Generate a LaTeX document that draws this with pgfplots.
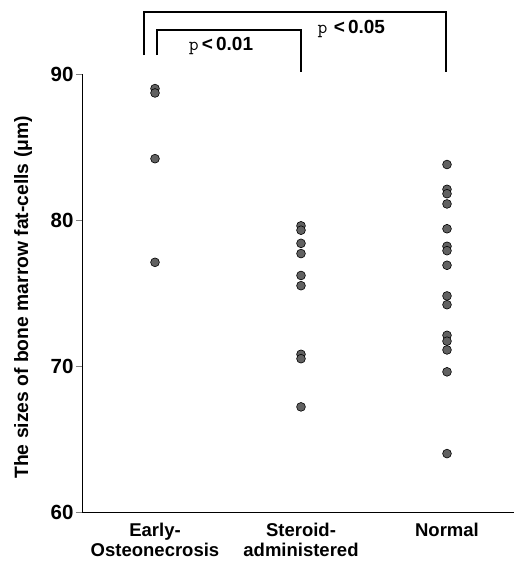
\documentclass[border=0pt]{standalone}
\usepackage{pgfplots}
\pgfplotsset{compat=1.18}
\usepackage{fontspec}
\setmainfont{Liberation Sans}
\begin{document}
\begin{tikzpicture}
\begin{axis}[
  scale only axis,
  width=432pt, height=438pt,
  xmin=0.5, xmax=3.459,
  ymin=60, ymax=90,
  axis x line=bottom, axis y line=left,
  axis line style={-, line width=0.9pt},
  clip=false,
  xtick={1,2,3},
  xticklabels={Early-\\Osteonecrosis, Steroid-\\administered, Normal},
  xtick style={draw=none},
  xticklabel style={align=center, anchor=north, font=\fontsize{18.5}{19.5}\selectfont\bfseries, yshift=-2pt},
  ytick={60,70,80,90},
  tick align=outside,
  major tick length=6pt,
  ytick style={line width=0.8pt},
  yticklabel style={font=\fontsize{20.5}{22}\selectfont\bfseries, xshift=1pt},
  /pgf/number format/assume math mode=true,
  ylabel={The sizes of bone marrow fat-cells (μm)},
  ylabel style={at={(axis description cs:-0.136,0.49)}, anchor=center, font=\fontsize{19.3}{21}\selectfont\bfseries},
]
\addplot[only marks, mark=*, mark size=4.4pt, mark options={fill=black!62, draw=black, line width=0.6pt}]
  table {
x y
1 89.0
1 88.7
1 84.2
1 77.1
2 79.6
2 79.3
2 78.4
2 77.7
2 76.2
2 75.5
2 70.8
2 70.5
2 67.2
3 83.8
3 82.1
3 81.8
3 81.1
3 79.4
3 78.2
3 77.9
3 76.9
3 74.8
3 74.2
3 72.1
3 71.7
3 71.1
3 69.6
3 64.0
};
\draw[line width=1.4pt] (axis cs:0.925,91.3) |- (axis cs:2.993,94.25) -- (axis cs:2.993,90.14);
\draw[line width=1.4pt] (axis cs:1.014,91.3) |- (axis cs:2.0,93.0) -- (axis cs:2.0,90.14);
\node[font=\fontsize{19}{20}\selectfont] at (axis cs:1.452,91.95) {{\ttfamily p}\,\textbf{<\,0.01}};
\node[font=\fontsize{19}{20}\selectfont] at (axis cs:2.345,93.1) {{\ttfamily p}\,\,\textbf{<\,0.05}};
\end{axis}
\pgfresetboundingbox
\path[use as bounding box] ([xshift=-82pt,yshift=-51pt]current axis.south west) rectangle ([xshift=2pt,yshift=74pt]current axis.north east);
\end{tikzpicture}
\end{document}
